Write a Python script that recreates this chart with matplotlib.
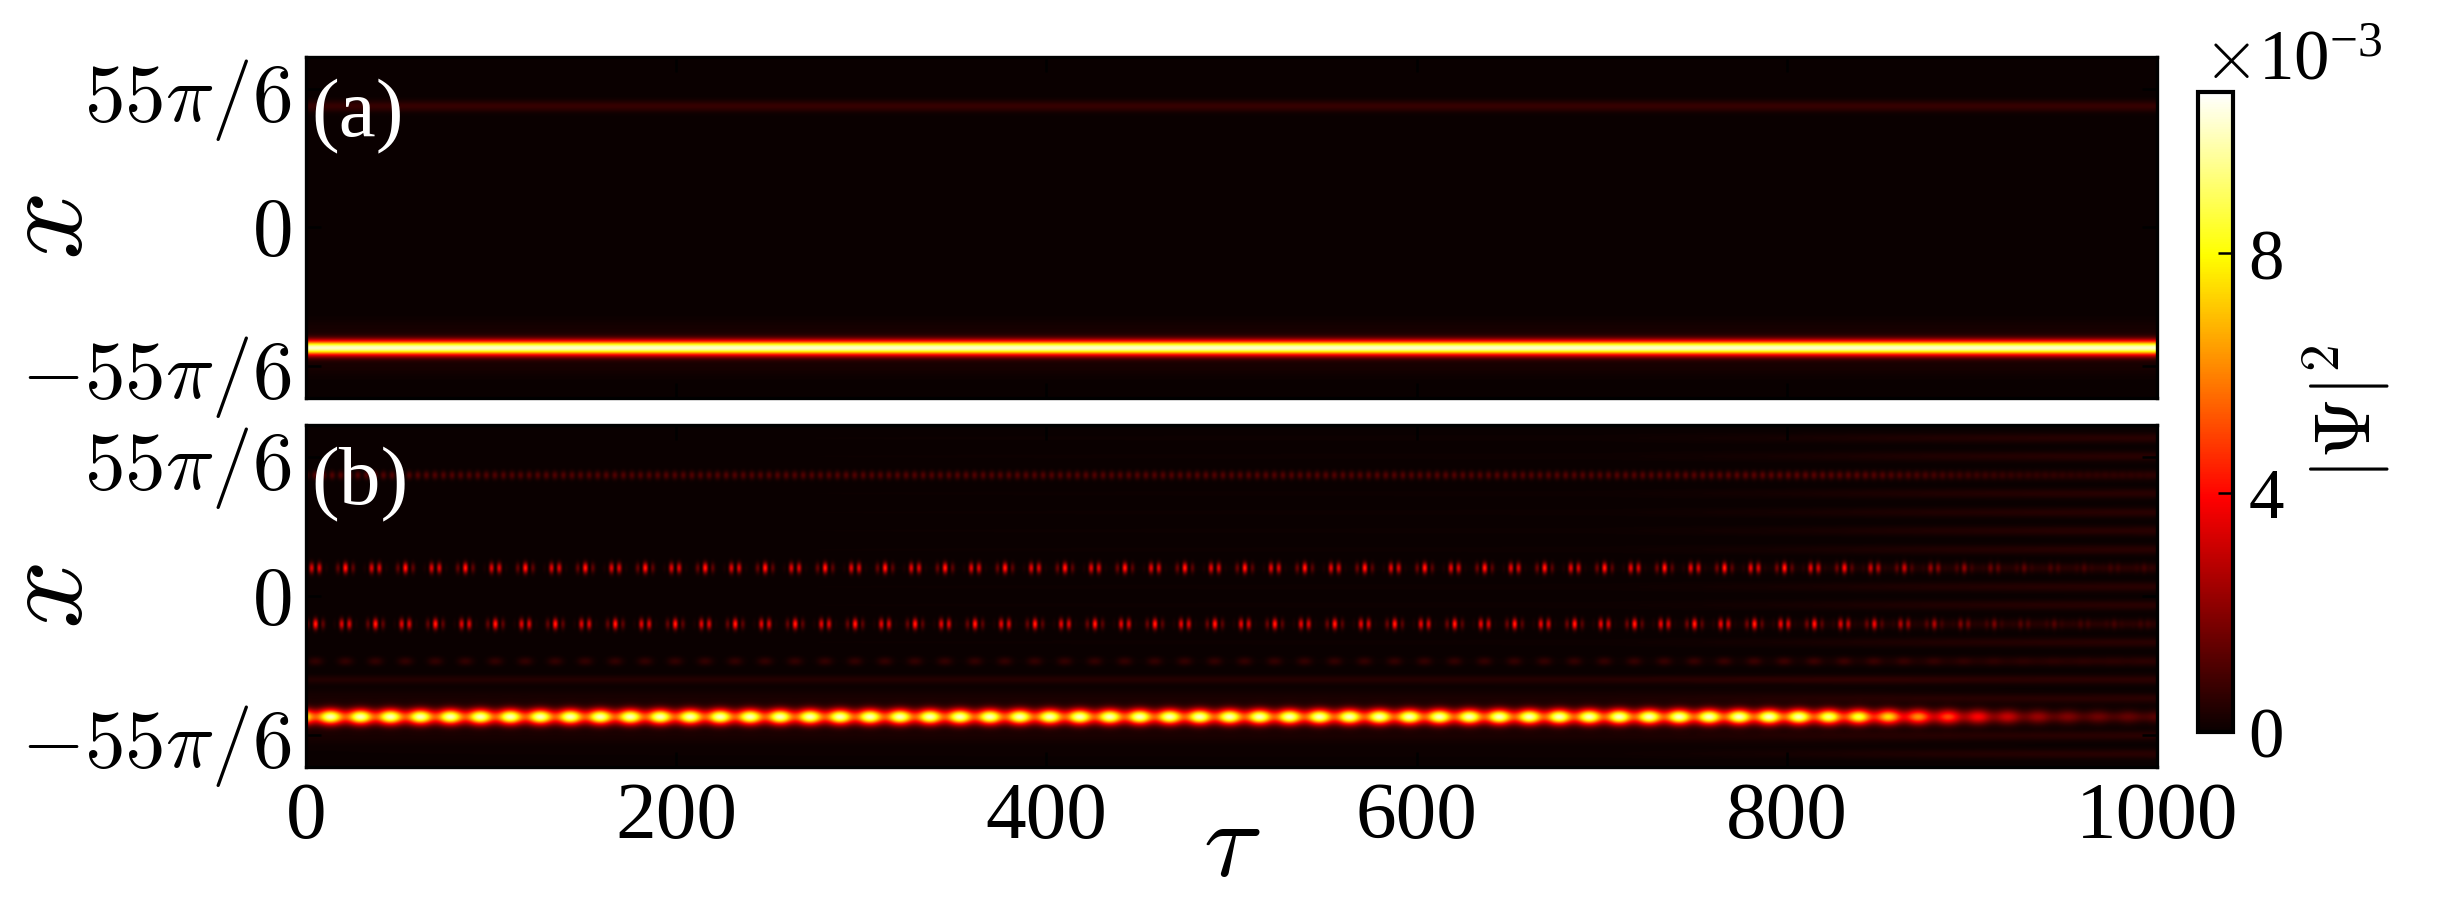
import numpy as np
import matplotlib
matplotlib.use("Agg")
import matplotlib.pyplot as plt
from matplotlib.ticker import ScalarFormatter

plt.rcParams["font.family"] = "serif"
plt.rcParams["font.serif"] = ["Liberation Serif", "DejaVu Serif"]
plt.rcParams["mathtext.fontset"] = "cm"

# axes / ticks
TAU_LIM = [0, 1000]
X_LIM = [-35.34, 35.34]
X_TICKS = [-55 * np.pi / 6, 0, 55 * np.pi / 6]
X_TICKLABELS = [r"$-55\pi/6$", r"$0$", r"$55\pi/6$"]
TAU_TICKS = [0, 200, 400, 600, 800, 1000]
CBAR_TICKS = [0, 0.004, 0.008]
VMAX = 0.0107

SITES = [-32.7, -28.9, -25.0, -21.2, -17.3, -13.5, -9.6, -5.8, -1.9,
         1.9, 5.8, 9.6, 13.5, 17.3, 21.2, 25.0, 28.9, 32.7]

# panel (a): static lines
A_POS = [-25.0, 25.0, -21.2, -28.9]
A_AMP = [0.0101, 0.0007, 0.0002, 0.0002]
A_SIG = [1.05, 0.8, 1.5, 1.5]

# panel (b): breathing main peak + dotted side lines
B_MAIN_POS = -25.0
B_MAIN_MEAN = 0.0077
B_MAIN_SWING = 0.0022
B_PERIOD = 16.2
B_PHASE = 13.0
B_CARRIER = 4.63
B_DOT_POS = [5.8, -5.8]
B_DOT_AMP = [0.0045, 0.0045]
B_DOT_SHIFT = [0.0, np.pi]
B_WEAK_POS = [25.0, -13.5, -17.3]
B_WEAK_AMP = [0.0011, 0.0006, 0.00035]
B_GLOW_POS = [-21.2, -28.9]
B_GLOW_AMP = [0.0002, 0.0002]

# late-time decay of the localised part, and growth of the spread stripes
DECAY_TAU = [0, 800, 840, 870, 900, 930, 960, 1000]
DECAY_VAL = [1.0, 1.0, 0.85, 0.6, 0.38, 0.2, 0.12, 0.08]
STRIPE_TAU = [0, 700, 800, 880, 950, 1000]
STRIPE_AMP = [0.00003, 0.00006, 0.00018, 0.00035, 0.00045, 0.0005]


def gauss(x, c, s):
    return np.exp(-0.5 * ((x - c) / s) ** 2)


tau = np.linspace(TAU_LIM[0], TAU_LIM[1], 2001)
x = np.linspace(X_LIM[0], X_LIM[1], 700)

# panel (a)
prof_a = np.zeros_like(x)
for p, a, s in zip(A_POS, A_AMP, A_SIG):
    prof_a += a * gauss(x, p, s)
field_a = prof_a[:, None] * np.ones_like(tau)[None, :]

# panel (b)
decay = np.interp(tau, DECAY_TAU, DECAY_VAL)
phase = 2 * np.pi * (tau - B_PHASE) / B_PERIOD
main = (B_MAIN_MEAN + B_MAIN_SWING * np.cos(phase)) * decay
field_b = main[None, :] * gauss(x, B_MAIN_POS, 1.1)[:, None]

window = ((1 - np.cos(phase)) / 2) ** 1.5
t_group = B_PHASE + B_PERIOD / 2
for p, a, sh in zip(B_DOT_POS, B_DOT_AMP, B_DOT_SHIFT):
    carrier = 0.5 + 0.5 * np.cos(2 * np.pi * (tau - t_group) / B_CARRIER + sh)
    row = a * window * carrier * decay
    field_b += row[None, :] * gauss(x, p, 0.75)[:, None]

weak_mod = [0.6 + 0.4 * np.cos(2 * np.pi * tau / B_CARRIER), window, np.ones_like(tau)]
for p, a, m in zip(B_WEAK_POS, B_WEAK_AMP, weak_mod):
    field_b += (a * m * decay)[None, :] * gauss(x, p, 0.6)[:, None]
for p, a in zip(B_GLOW_POS, B_GLOW_AMP):
    field_b += (a * decay)[None, :] * gauss(x, p, 1.5)[:, None]

stripes = np.interp(tau, STRIPE_TAU, STRIPE_AMP)
comb = np.zeros_like(x)
for s in SITES:
    comb += gauss(x, s, 0.7)
field_b += stripes[None, :] * comb[:, None]

fig = plt.figure(figsize=(8.2, 3.0), dpi=300)
ax_a = fig.add_axes([0.1244, 0.5578, 0.7524, 0.3789])
ax_b = fig.add_axes([0.1244, 0.1478, 0.7524, 0.3800])
cax = fig.add_axes([0.8935, 0.1867, 0.0142, 0.7111])

extent = [TAU_LIM[0], TAU_LIM[1], X_LIM[0], X_LIM[1]]
for ax, field, tag in ((ax_a, field_a, "(a)"), (ax_b, field_b, "(b)")):
    im = ax.imshow(field, extent=extent, origin="lower", aspect="auto",
                   cmap="hot", vmin=0, vmax=VMAX, interpolation="bilinear")
    ax.set_xlim(TAU_LIM)
    ax.set_ylim(X_LIM)
    ax.set_yticks(X_TICKS)
    ax.set_yticklabels(X_TICKLABELS, fontsize=19.5)
    ax.set_xticks(TAU_TICKS)
    ax.tick_params(direction="in", top=True, right=True, length=3.6,
                   width=0.6, labelsize=19.5)
    ax.set_ylabel(r"$x$", fontsize=29)
    ax.yaxis.set_label_coords(-0.107, 0.5)
    ax.text(0.003, 0.935, tag, color="white", fontsize=20,
            transform=ax.transAxes, ha="left", va="top")

ax_a.tick_params(labelbottom=False)
ax_b.set_xlabel(r"$\tau$", fontsize=26)
ax_b.xaxis.set_label_coords(0.5, -0.1)

cbar = fig.colorbar(im, cax=cax, ticks=CBAR_TICKS)
fmt = ScalarFormatter(useMathText=True)
fmt.set_powerlimits((0, 0))
cbar.formatter = fmt
cbar.update_ticks()
cbar.outline.set_linewidth(1.0)
cax.tick_params(direction="in", length=3.5, width=0.6, labelsize=17)
cbar.set_label(r"$|\Psi|^2$", fontsize=19)
off = cax.yaxis.get_offset_text()
off.set_fontsize(17)
off.set_horizontalalignment("left")
off.set_x(0.15)

fig.savefig("out.png", dpi=300)
